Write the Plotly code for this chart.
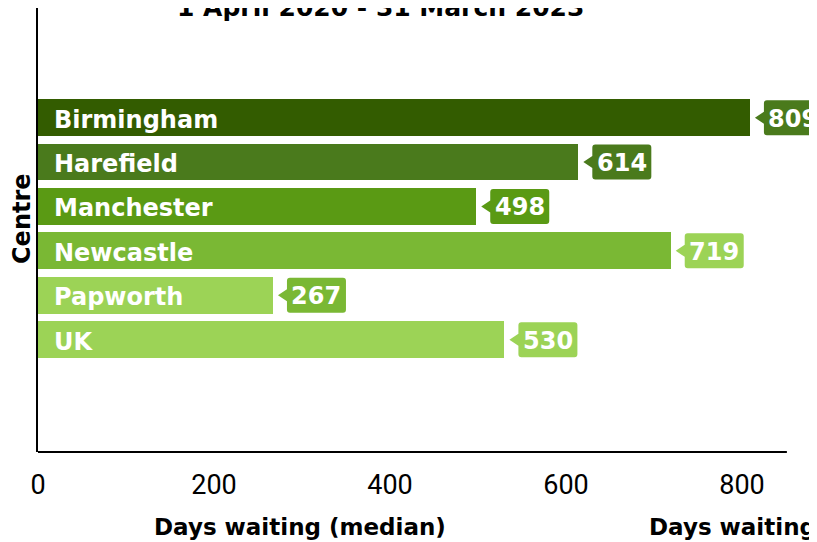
import plotly.graph_objects as go

centres = ["Birmingham", "Harefield", "Manchester", "Newcastle", "Papworth", "UK"]
days = [809, 614, 498, 719, 267, 530]
bar_colors = ["#335c00", "#4a7a1c", "#5a9a14", "#7ab834", "#9cd356", "#9cd356"]
callout_colors = ["#4a7a1c", "#4a7a1c", "#5a9a14", "#9cd356", "#7ab834", "#9cd356"]
x_ticks = [0, 200, 400, 600, 800]
title_text = "1 April 2020 - 31 March 2023"
x_title = "Days waiting (median)"
x_title2 = "Days waiting"
y_title = "Centre"
x_axis_end = 851

LABEL_FONT = "DejaVu Sans"
positions = list(range(len(centres)))

fig = go.Figure()
fig.add_trace(go.Bar(
    orientation="h", x=days, y=positions, width=0.83,
    marker=dict(color=bar_colors, line=dict(width=0)),
    hoverinfo="skip", showlegend=False,
))

# callout shape path (pixel offsets from bar end)
tip, bx0, bx1, hh, r, th = 5, 14, 73, 17.5, 3, 6
path = (f"M {tip},0 L {bx0},{-th} L {bx0},{-hh + r} Q {bx0},{-hh} {bx0 + r},{-hh} "
        f"L {bx1 - r},{-hh} Q {bx1},{-hh} {bx1},{-hh + r} L {bx1},{hh - r} "
        f"Q {bx1},{hh} {bx1 - r},{hh} L {bx0 + r},{hh} Q {bx0},{hh} {bx0},{hh - r} "
        f"L {bx0},{th} Z")

for i, (name, v) in enumerate(zip(centres, days)):
    fig.add_shape(type="path", xref="x", yref="y", xsizemode="pixel", ysizemode="pixel",
                  xanchor=v, yanchor=i, path=path,
                  fillcolor=callout_colors[i], line=dict(width=0), layer="above")
    fig.add_annotation(x=v, y=i, xref="x", yref="y", text=str(v), showarrow=False,
                       xanchor="center", xshift=(bx0 + bx1) / 2, yshift=-1,
                       font=dict(family=LABEL_FONT, size=24, color="white", weight="bold"))
    fig.add_annotation(x=0, y=i, xref="x", yref="y", text=name, showarrow=False,
                       xanchor="left", xshift=14, yshift=-2,
                       font=dict(family=LABEL_FONT, size=24, color="white", weight="bold"))

# x axis line (ends before the plot edge as in the reference)
fig.add_shape(type="line", xref="x", yref="paper", x0=0, x1=x_axis_end, y0=0, y1=0,
              line=dict(color="black", width=2), layer="above")

fig.add_annotation(xref="paper", yref="paper", x=0, y=1, xanchor="center", yanchor="bottom",
                   xshift=342, yshift=-16, text=title_text, showarrow=False,
                   font=dict(family=LABEL_FONT, size=25, color="black", weight="bold"))
fig.add_annotation(xref="paper", yref="paper", x=0, y=0.5, xanchor="center", yanchor="middle",
                   xshift=-16, yshift=11, text=y_title, textangle=-90, showarrow=False,
                   font=dict(family=LABEL_FONT, size=24, color="black", weight="bold"))
fig.add_annotation(xref="paper", yref="paper", x=0, y=0, xanchor="center", yanchor="middle",
                   xshift=262, yshift=-75, text=x_title, showarrow=False,
                   font=dict(family=LABEL_FONT, size=23, color="black", weight="bold"))
fig.add_annotation(xref="paper", yref="paper", x=0, y=0, xanchor="left", yanchor="middle",
                   xshift=609, yshift=-75, text=x_title2, showarrow=False,
                   font=dict(family=LABEL_FONT, size=23, color="black", weight="bold"))

fig.update_layout(
    width=817, height=542,
    margin=dict(l=30, r=0, t=0, b=98),
    plot_bgcolor="white", paper_bgcolor="white",
    bargap=0,
    xaxis=dict(range=[0, 787 / 0.88], tickvals=x_ticks, showgrid=False, zeroline=False,
               showline=False, ticks="outside", ticklen=9, tickcolor="rgba(0,0,0,0)",
               tickfont=dict(family="Roboto", size=27, color="black")),
    yaxis=dict(range=[7.53, -2.47], showgrid=False, zeroline=False, showline=True,
               linecolor="black", linewidth=2, showticklabels=False, ticks=""),
)

fig.write_html("out.html")
